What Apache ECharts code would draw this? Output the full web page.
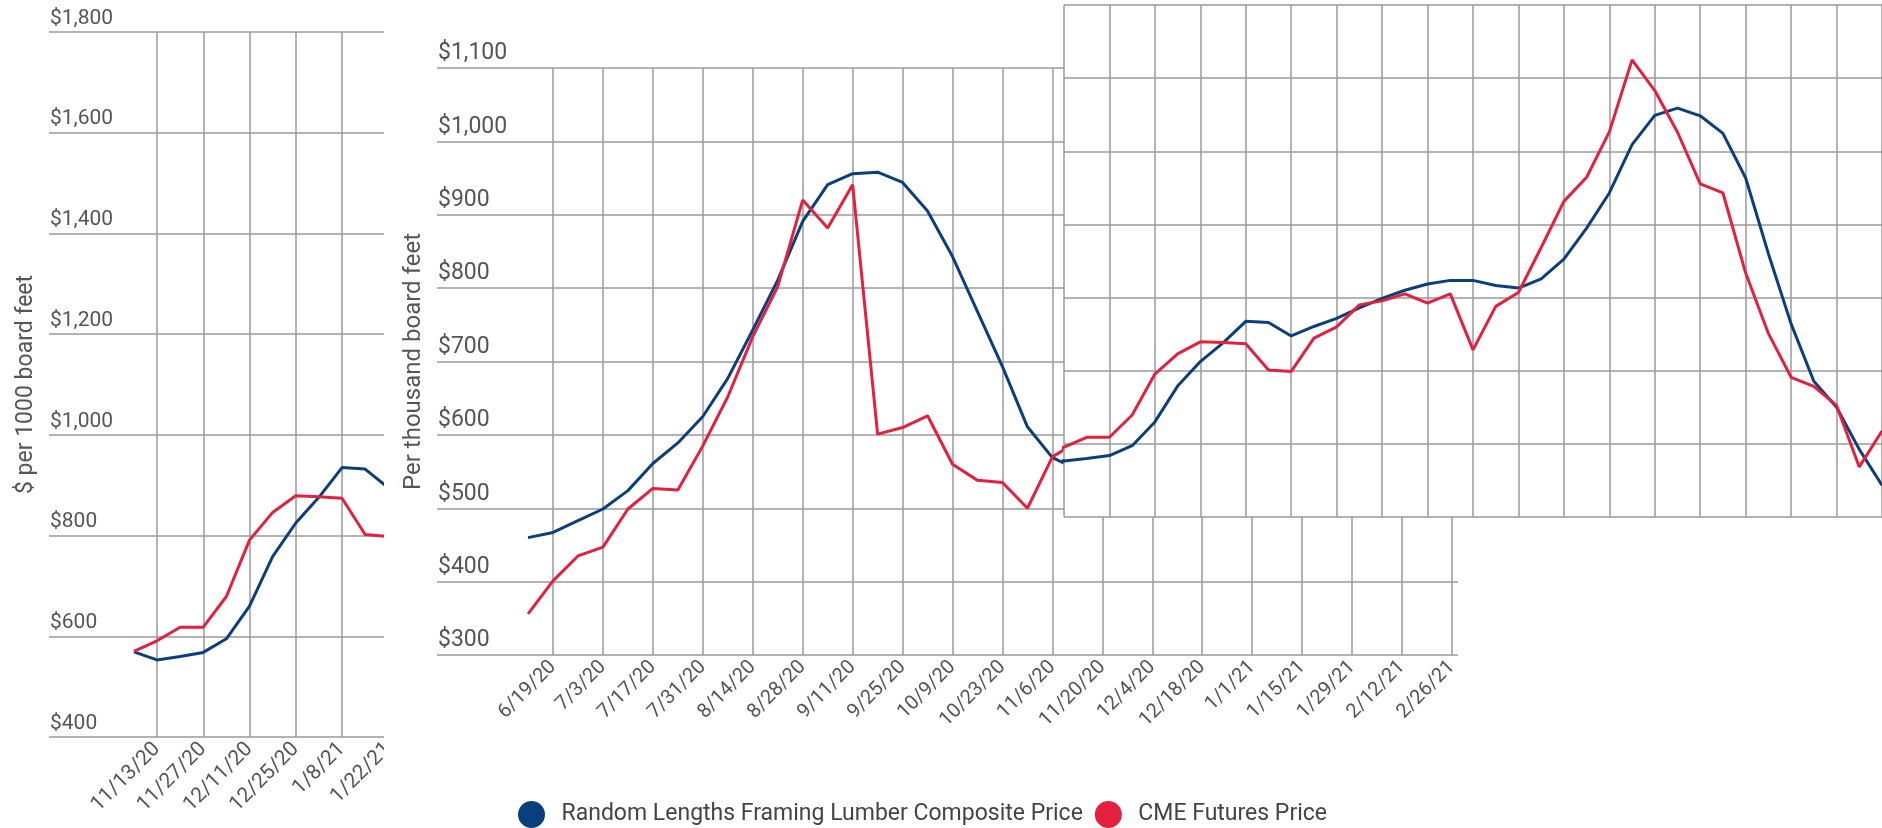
<!DOCTYPE html>
<html>
<head>
<meta charset="utf-8">
<script src="https://cdn.jsdelivr.net/npm/echarts@6/dist/echarts.min.js"></script>
<style>
  html, body { margin: 0; padding: 0; background: #fff; }
  #chart { width: 1882px; height: 828px; }
</style>
</head>
<body>
<div id="chart"></div>
<script>
// weekly dates, shared by the three overlapping panels
const weeks = [
  '6/12/20', '6/19/20', '6/26/20', '7/3/20', '7/10/20', '7/17/20', '7/24/20', '7/31/20',
  '8/7/20', '8/14/20', '8/21/20', '8/28/20', '9/4/20', '9/11/20', '9/18/20', '9/25/20',
  '10/2/20', '10/9/20', '10/16/20', '10/23/20', '10/30/20', '11/6/20', '11/13/20', '11/20/20',
  '11/27/20', '12/4/20', '12/11/20', '12/18/20', '12/25/20', '1/1/21', '1/8/21', '1/15/21',
  '1/22/21', '1/29/21', '2/5/21', '2/12/21', '2/19/21', '2/26/21', '3/5/21', '3/12/21',
  '3/19/21', '3/26/21', '4/2/21', '4/9/21', '4/16/21', '4/23/21', '4/30/21', '5/7/21',
  '5/14/21', '5/21/21', '5/28/21', '6/4/21', '6/11/21', '6/18/21', '6/25/21', '7/2/21',
  '7/9/21', '7/16/21', '7/23/21'
];

// Random Lengths framing lumber composite, $ per 1000 bf
const framingComposite = [
  460, 467, 483, 499, 524, 561, 589, 625,
  677, 743, 811, 891, 941, 956, 958, 944,
  905, 843, 768, 693, 611, 569, 553, 560,
  568, 595, 660, 758, 825, 876, 935, 932,
  895, 921, 943, 972, 998, 1020, 1037, 1047,
  1047, 1033, 1026, 1051, 1105, 1190, 1286, 1418,
  1498, 1518, 1497, 1449, 1327, 1120, 928, 771,
  700, 585, 487
];

// CME lumber futures
const cmeFutures = [
  356, 401, 435, 447, 499, 527, 525, 585,
  652, 734, 802, 920, 882, 941, 601, 610,
  626, 560, 538, 535, 500, 570, 591, 618,
  618, 679, 791, 846, 879, 877, 874, 802,
  798, 889, 920, 980, 991, 1010, 985, 1010,
  857, 976, 1014, 1137, 1263, 1329, 1453, 1650,
  1566, 1452, 1311, 1286, 1067, 902, 782, 757,
  705, 537, 635
];

const seriesNames = ['Random Lengths Framing Lumber Composite Price', 'CME Futures Price'];
const colors = ['#0a3f7d', '#e4203e'];

const gridGray = '#9a9a9a';
const textGray = '#555';
const narrow = "'Liberation Sans Narrow', 'Roboto', sans-serif";

// [week offset, value] pairs for a slice of the data
function pairs(values, from, to, origin) {
  let out = [];
  for (let i = from; i <= to; i++) out.push([i - origin, values[i]]);
  return out;
}

function money(v) {
  return '$' + v.toLocaleString('en-US');
}

// y axis that only carries the horizontal lines and labels
function priceAxis(gridIndex, min, max, step, fontSize, zl, z, extra) {
  return Object.assign({
    type: 'value', gridIndex: gridIndex, min: min, max: max, interval: step, zlevel: zl, z: z,
    axisLine: { show: false }, axisTick: { show: false },
    axisLabel: {
      inside: true, margin: 1, verticalAlign: 'bottom', padding: [0, 0, 3, 0],
      color: textGray, fontSize: fontSize, fontFamily: 'Roboto', formatter: money
    },
    splitLine: { lineStyle: { color: gridGray, width: 1.5 } }
  }, extra || {});
}

// x axis with the vertical lines every two weeks
function weekAxis(gridIndex, min, max, origin, fontSize, zl, z) {
  return {
    type: 'value', gridIndex: gridIndex, min: min, max: max, interval: 2, zlevel: zl, z: z,
    axisLine: { show: false }, axisTick: { show: false },
    axisLabel: {
      rotate: 45, margin: 9, color: textGray, fontSize: fontSize, fontFamily: 'Roboto',
      showMinLabel: false, showMaxLabel: false,
      formatter: (v) => weeks[v + origin] || ''
    },
    splitLine: { show: true, showMinLine: false, showMaxLine: false, lineStyle: { color: gridGray, width: 1.5 } }
  };
}

function hiddenAxis(gridIndex, min, max, zl) {
  return { type: 'value', gridIndex: gridIndex, min: min, max: max, show: false, zlevel: zl, splitLine: { show: false } };
}

function lineSeries(k, data, xi, yi, zl, z) {
  return {
    name: seriesNames[k], type: 'line', xAxisIndex: xi, yAxisIndex: yi, zlevel: zl, z: z,
    data: data, showSymbol: false, symbol: 'none', clip: true, silent: true,
    lineStyle: { color: colors[k], width: 3 }, itemStyle: { color: colors[k] }
  };
}

const plain = { show: false, outerBoundsMode: 'none', containLabel: false };

let chart = echarts.init(document.getElementById('chart'));

let option = {
  animation: false,
  backgroundColor: '#fff',
  grid: [
    // left panel: lines + labels, then the week grid
    Object.assign({ left: 49, top: 32, width: 400, height: 705 }, plain),
    Object.assign({ left: 110.75, top: 32, width: 323.75, height: 705 }, plain),
    // white sheet of the middle panel, lying over the left one
    { show: true, left: 384, top: 0, right: 0, bottom: 0, backgroundColor: '#fff', borderWidth: 0, zlevel: 1, z: 3, outerBoundsMode: 'none' },
    Object.assign({ left: 437, top: 68, width: 1021, height: 587 }, plain),
    Object.assign({ left: 503.06, top: 68, width: 998.8, height: 587 }, plain),
    // right panel, cropped piece of the long chart
    { show: true, left: 1064, top: 5, width: 818, height: 512, backgroundColor: '#fff', borderWidth: 0, zlevel: 1, z: 6, outerBoundsMode: 'none' }
  ],
  xAxis: [
    hiddenAxis(0, 0, 1, 0),
    weekAxis(1, -2, 12, 22, 21, 0, 0),
    hiddenAxis(3, 0, 1, 1),
    weekAxis(4, -2, 38, 1, 20, 1, 4),
    {
      type: 'value', gridIndex: 5, min: 0, max: 36, interval: 2, zlevel: 1, z: 7,
      axisLine: { show: false }, axisTick: { show: false }, axisLabel: { show: false },
      splitLine: { show: true, lineStyle: { color: gridGray, width: 1.5 } }
    }
  ],
  yAxis: [
    priceAxis(0, 400, 1800, 200, 21, 0, 0, {
      name: '$ per 1000 board feet', nameLocation: 'middle', nameGap: 11, nameRotate: 90,
      nameTextStyle: { color: textGray, fontSize: 23, fontFamily: narrow, verticalAlign: 'bottom' }
    }),
    hiddenAxis(1, 400, 1800, 0),
    priceAxis(3, 300, 1100, 100, 23, 1, 4, {
      name: 'Per thousand board feet', nameLocation: 'middle', nameGap: 11, nameRotate: 90,
      nameTextStyle: { color: textGray, fontSize: 24, fontFamily: 'Roboto', verticalAlign: 'bottom' }
    }),
    hiddenAxis(4, 300, 1100, 1),
    {
      type: 'value', gridIndex: 5, min: 400, max: 1800, interval: 200, zlevel: 1, z: 7,
      axisLine: { show: false }, axisTick: { show: false }, axisLabel: { show: false },
      splitLine: { show: true, lineStyle: { color: gridGray, width: 1.5 } }
    }
  ],
  legend: {
    zlevel: 1, z: 9, left: 513, top: 796, itemWidth: 50, itemHeight: 27, itemGap: 12,
    icon: 'circle', data: seriesNames,
    textStyle: { color: '#444', fontSize: 23, fontFamily: narrow }
  },
  series: [
    lineSeries(0, pairs(framingComposite, 21, 34, 22), 1, 1, 0, 2),
    lineSeries(1, pairs(cmeFutures, 21, 34, 22), 1, 1, 0, 2),
    lineSeries(0, pairs(framingComposite, 0, 37, 1), 3, 3, 1, 5),
    lineSeries(1, pairs(cmeFutures, 0, 37, 1), 3, 3, 1, 5),
    lineSeries(0, pairs(framingComposite, 21, 58, 22), 4, 4, 1, 8),
    lineSeries(1, pairs(cmeFutures, 21, 58, 22), 4, 4, 1, 8)
  ]
};

chart.setOption(option);
</script>
</body>
</html>
